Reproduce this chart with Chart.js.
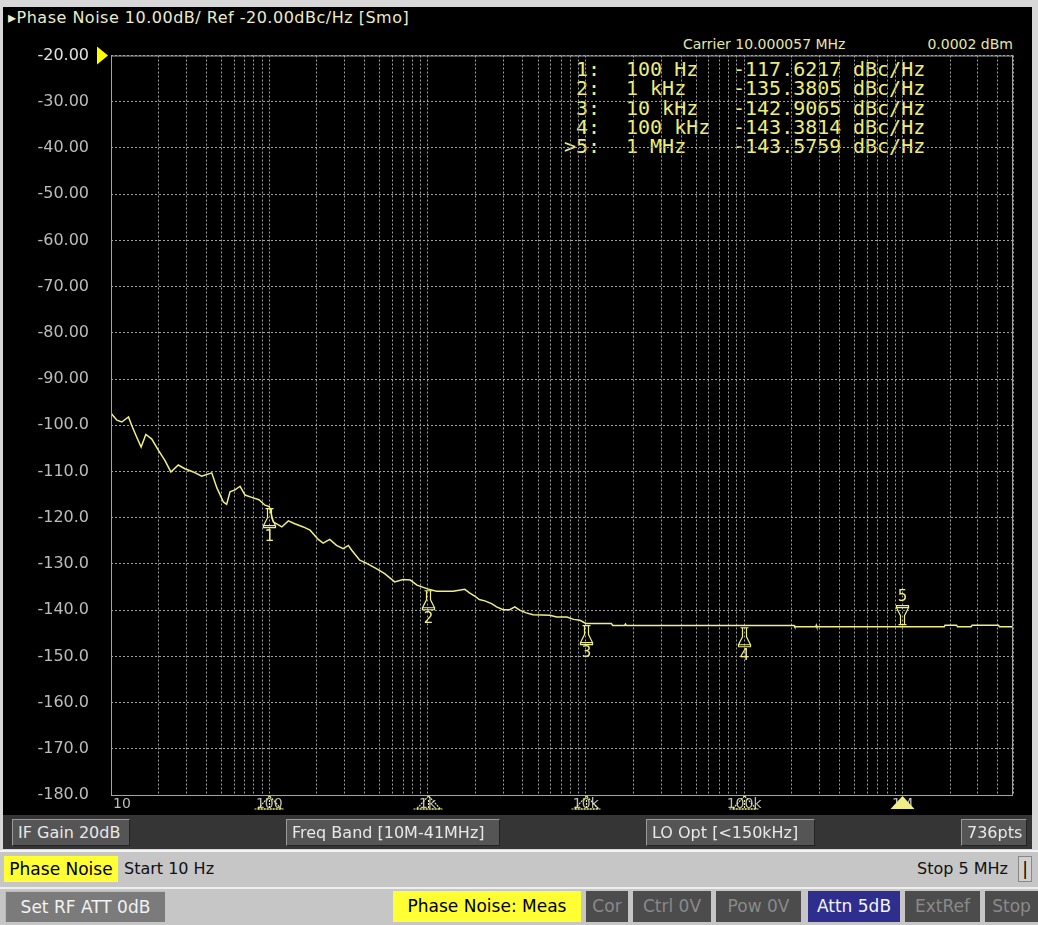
<!DOCTYPE html>
<html>
<head>
<meta charset="utf-8">
<script src="https://cdn.jsdelivr.net/npm/chart.js@4.4.1/dist/chart.umd.min.js"></script>
<style>
  body { margin: 0; width: 1038px; height: 925px; background: #d8d8d8; position: relative; overflow: hidden; font-family: 'DejaVu Sans', sans-serif; }
  .abs { position: absolute; white-space: pre; }
  #screen { position: absolute; left: 3px; top: 7px; width: 1029px; height: 842px; background: #000; }
  #strip { position: absolute; left: 3px; top: 815px; width: 1029px; height: 34px; background: #353535; }
  #plot { position: absolute; left: 0; top: 0; width: 1038px; height: 850px; }
  .box { position: absolute; background: #555; color: #e8e8e8; font-size: 16px; line-height: 25px; padding-left: 5px; box-sizing: border-box;
         border-top: 1px solid #9a9a9a; border-left: 1px solid #9a9a9a; border-right: 1px solid #222; border-bottom: 1px solid #222; }
  .bar { position: absolute; left: 0; width: 1038px; background: #c6c6c6; }
  .key { position: absolute; font-size: 17px; line-height: 30px; text-align: center; box-sizing: border-box; }
  .mk { position: absolute; font-family: 'DejaVu Sans Mono', monospace; font-size: 20px; line-height: 19px; color: #eded7a; white-space: pre; }
</style>
</head>
<body>
<div id="screen"></div>
<div id="strip"></div>

<div class="abs" style="left:8px; top:8px; font-size:16px; letter-spacing:0.5px; color:#ececc8;">&#9656;Phase Noise 10.00dB/ Ref -20.00dBc/Hz [Smo]</div>
<div class="abs" style="left:683px; top:36px; font-size:14px; color:#e6e6a6;">Carrier 10.000057 MHz</div>
<div class="abs" style="right:25px; top:36px; font-size:14px; color:#e6e6a6;">0.0002 dBm</div>
<div id="markerTable"></div>

<div id="plot"><canvas id="chart"></canvas></div>

<div class="box" style="left:12px; top:819px; width:118px; height:27px;">IF Gain 20dB</div>
<div class="box" style="left:286px; top:819px; width:214px; height:27px;">Freq Band [10M-41MHz]</div>
<div class="box" style="left:646px; top:819px; width:169px; height:27px;">LO Opt [&lt;150kHz]</div>
<div class="box" style="left:961px; top:819px; width:66px; height:27px;">736pts</div>

<div class="bar" style="top:850px; height:35px; border-top:2px solid #f4f4f4;"></div>
<div class="key" style="left:4px; top:856px; width:114px; height:26px; line-height:26px; background:#ffff33; color:#000;">Phase Noise</div>
<div class="abs" style="left:124px; top:859px; font-size:16px; color:#111;">Start 10 Hz</div>
<div class="abs" style="right:30px; top:859px; font-size:16px; color:#111;">Stop 5 MHz</div>
<div class="key" style="left:1018px; top:856px; width:14px; height:26px; line-height:24px; background:#d0d0d0; border:1px solid #888; color:#000;">|</div>

<div class="bar" style="top:887px; height:38px; border-top:2px solid #eeeeee;"></div>
<div class="key" style="left:5px; top:891px; width:160px; height:31px; background:#7b7b7b; color:#f2f2f2; border-top:1px solid #bbb; border-left:1px solid #bbb;">Set RF ATT 0dB</div>
<div class="key" style="left:393px; top:891px; width:188px; height:31px; background:#ffff33; color:#000;">Phase Noise: Meas</div>
<div class="key" style="left:586px; top:891px; width:42px; height:31px; background:#4c4c4c; color:#8a8a8a;">Cor</div>
<div class="key" style="left:633px; top:891px; width:78px; height:31px; background:#4c4c4c; color:#8a8a8a;">Ctrl  0V</div>
<div class="key" style="left:716px; top:891px; width:85px; height:31px; background:#4c4c4c; color:#8a8a8a;">Pow  0V</div>
<div class="key" style="left:808px; top:891px; width:92px; height:31px; background:#2e2e8e; color:#f4f4f4;">Attn 5dB</div>
<div class="key" style="left:905px; top:891px; width:75px; height:31px; background:#4c4c4c; color:#8a8a8a;">ExtRef</div>
<div class="key" style="left:985px; top:891px; width:53px; height:31px; background:#4c4c4c; color:#8a8a8a;">Stop</div>

<script>
// trace (Hz, dBc/Hz)
const traceFreqs = [
  10, 10.9, 11.7, 12.9, 13.5, 14.5, 15.5, 16.6, 18.1, 19.9,
  21.9, 23.9, 26.6, 29.3, 33.1, 37.4, 43.3, 46.6, 51.3, 53.8,
  56.5, 60.7, 65.4, 70.3, 77.5, 86, 94, 100, 106, 120,
  132, 145, 164, 181, 204, 219, 241, 266, 293, 316,
  331, 373, 413, 475, 536, 620, 700, 778, 858, 1000,
  1140, 1450, 1720, 1850, 2000, 2120, 2300, 2540, 2730, 3000,
  3300, 3560, 3820, 4200, 4640, 5930, 6540, 7590, 8380, 9180,
  10000, 14500, 14800, 17600, 17800, 18000, 207000, 209000, 284000, 286000,
  288000, 1000000, 1840000, 1860000, 2200000, 2230000, 2720000, 2760000, 4050000, 4100000,
  5000000
];
const traceLevels = [
  -97.4, -98.9, -99.3, -98.2, -100.0, -102.5, -104.7, -102.0, -103.0, -105.4,
  -107.6, -110.1, -108.6, -109.4, -110.1, -111.0, -110.3, -113.5, -116.6, -117.1,
  -114.4, -114.0, -113.2, -115.1, -115.6, -116.1, -117.3, -117.6, -120.9, -122.0,
  -120.7, -121.3, -122.0, -122.7, -124.7, -125.5, -124.7, -126.0, -126.7, -126.0,
  -127.0, -129.2, -129.9, -131.0, -132.1, -133.9, -133.4, -133.5, -134.6, -135.4,
  -135.9, -135.9, -135.5, -136.3, -137.0, -137.7, -138.0, -138.6, -139.3, -139.9,
  -139.9, -139.3, -140.0, -140.6, -141.0, -141.1, -141.5, -141.5, -142.0, -142.2,
  -142.9, -142.9, -143.3, -143.3, -143.0, -143.3, -143.3, -143.6, -143.6, -143.3,
  -143.6, -143.58, -143.6, -143.25, -143.25, -143.6, -143.6, -143.25, -143.25, -143.6,
  -143.6
];

// markers
const markerIds = ['1:', '2:', '3:', '4:', '>5:'];
const markerNames = ['1', '2', '3', '4', '5'];
const markerFreqs = [100, 1000, 10000, 100000, 1000000];
const markerFreqLabels = ['100 Hz', '1 kHz', '10 kHz', '100 kHz', '1 MHz'];
const markerLevels = [-117.6217, -135.3805, -142.9065, -143.3814, -143.5759];
const activeMarker = 4;

// axes
const freqStart = 10;
const freqStop = 5000000;
const decadeFreqs = [10, 100, 1000, 10000, 100000, 1000000];
const decadeLabels = ['10', '100', '1k', '10k', '100k', '1M'];
const refLevel = -20;
const bottomLevel = -180;
const dbPerDiv = 10;

// marker readout table
const table = document.getElementById('markerTable');
markerIds.forEach((id, i) => {
  const top = 60 + i * 19.3;
  const cells = [
    [id, 'right:438px'],
    [markerFreqLabels[i], 'left:626px'],
    [markerLevels[i].toFixed(4), 'left:733px'],
    ['dBc/Hz', 'left:853px']
  ];
  cells.forEach(c => {
    const d = document.createElement('div');
    d.className = 'mk';
    d.setAttribute('style', c[1] + '; top:' + top + 'px;');
    d.textContent = c[0];
    table.appendChild(d);
  });
});

const traceColor = '#efef86';

const overlay = {
  id: 'overlay',
  afterDatasetsDraw(chart) {
    const ctx = chart.ctx;
    const a = chart.chartArea;
    const xs = chart.scales.x;
    const ys = chart.scales.y;
    ctx.save();

    // frame
    ctx.strokeStyle = '#a4a4a4';
    ctx.lineWidth = 1;
    ctx.strokeRect(a.left + 0.5, a.top + 0.5, a.right - a.left - 1, a.bottom - a.top);

    // reference level arrow
    const ry = ys.getPixelForValue(refLevel);
    ctx.fillStyle = '#ffff00';
    ctx.beginPath();
    ctx.moveTo(a.left - 14, ry - 9);
    ctx.lineTo(a.left - 3, ry);
    ctx.lineTo(a.left - 14, ry + 9);
    ctx.closePath();
    ctx.fill();

    // frequency labels
    ctx.font = '14px "DejaVu Sans"';
    ctx.fillStyle = '#bdbdbd';
    ctx.textBaseline = 'middle';
    decadeFreqs.forEach((f, i) => {
      const px = xs.getPixelForValue(f);
      ctx.textAlign = i === 0 ? 'left' : 'center';
      ctx.fillText(decadeLabels[i], i === 0 ? px + 2 : px, a.bottom + 9);
    });

    // markers on trace
    ctx.strokeStyle = traceColor;
    ctx.fillStyle = traceColor;
    ctx.lineWidth = 1.2;
    ctx.font = '15px "DejaVu Sans"';
    ctx.textAlign = 'center';
    markerFreqs.forEach((f, i) => {
      const mx = Math.round(xs.getPixelForValue(f)) + 0.5;
      const my = ys.getPixelForValue(markerLevels[i]);
      const s = i === activeMarker ? -1 : 1;
      ctx.beginPath();
      ctx.moveTo(mx - 4, my + s * 2);
      ctx.lineTo(mx + 4, my + s * 2);
      ctx.moveTo(mx - 2, my + s * 2);
      ctx.lineTo(mx - 2, my + s * 11);
      ctx.lineTo(mx - 6, my + s * 19);
      ctx.lineTo(mx + 6, my + s * 19);
      ctx.lineTo(mx + 2, my + s * 11);
      ctx.lineTo(mx + 2, my + s * 2);
      ctx.moveTo(mx - 6, my + s * 19);
      ctx.lineTo(mx - 6, my + s * 21);
      ctx.lineTo(mx + 6, my + s * 21);
      ctx.lineTo(mx + 6, my + s * 19);
      ctx.stroke();
      ctx.fillText(markerNames[i], mx, my + s * 30);

      // marker flags along the frequency axis
      const by = a.bottom;
      ctx.beginPath();
      ctx.moveTo(mx, by + 1);
      ctx.lineTo(mx - 12, by + 14);
      ctx.lineTo(mx + 12, by + 14);
      ctx.closePath();
      if (i === activeMarker) {
        ctx.fill();
      } else {
        ctx.setLineDash([2, 1]);
        ctx.stroke();
        ctx.beginPath();
        ctx.moveTo(mx, by + 5);
        ctx.lineTo(mx, by + 14);
        ctx.moveTo(mx - 15, by + 14);
        ctx.lineTo(mx + 15, by + 14);
        ctx.stroke();
        ctx.setLineDash([]);
      }
    });
    ctx.restore();
  }
};

const gridTicks = [];
for (let d = 10; d < freqStop; d *= 10) {
  for (let k = 1; k <= 9; k++) {
    if (d * k <= freqStop) gridTicks.push({ value: d * k });
  }
}

new Chart(document.getElementById('chart'), {
  type: 'line',
  data: {
    datasets: [{
      data: traceFreqs.map((f, i) => ({ x: f, y: traceLevels[i] })),
      borderColor: traceColor,
      borderWidth: 1.5,
      pointRadius: 0,
      tension: 0,
      fill: false
    }]
  },
  options: {
    responsive: true,
    maintainAspectRatio: false,
    animation: false,
    layout: { padding: { top: 55.5, right: 25, left: 0, bottom: 0 } },
    plugins: { legend: { display: false }, tooltip: { enabled: false } },
    scales: {
      x: {
        type: 'logarithmic',
        min: freqStart,
        max: freqStop,
        afterBuildTicks: scale => { scale.ticks = gridTicks.slice(); },
        afterFit: scale => { scale.height = 55; },
        ticks: { display: false },
        grid: { color: '#a0a0a0', lineWidth: 1, drawTicks: false },
        border: { display: false, dash: [2, 2] }
      },
      y: {
        min: bottomLevel,
        max: refLevel,
        afterFit: scale => { scale.width = 111; },
        ticks: {
          stepSize: dbPerDiv,
          padding: 22,
          color: ctx => ctx.tick && ctx.tick.value === refLevel ? '#e2e2e2' : '#bcbcbc',
          font: { family: 'DejaVu Sans', size: 16 },
          callback: v => v > -100 ? v.toFixed(2) : v.toFixed(1)
        },
        grid: { color: '#a0a0a0', lineWidth: 1, drawTicks: false },
        border: { display: false, dash: [2, 2] }
      }
    }
  },
  plugins: [overlay]
});
</script>
</body>
</html>
